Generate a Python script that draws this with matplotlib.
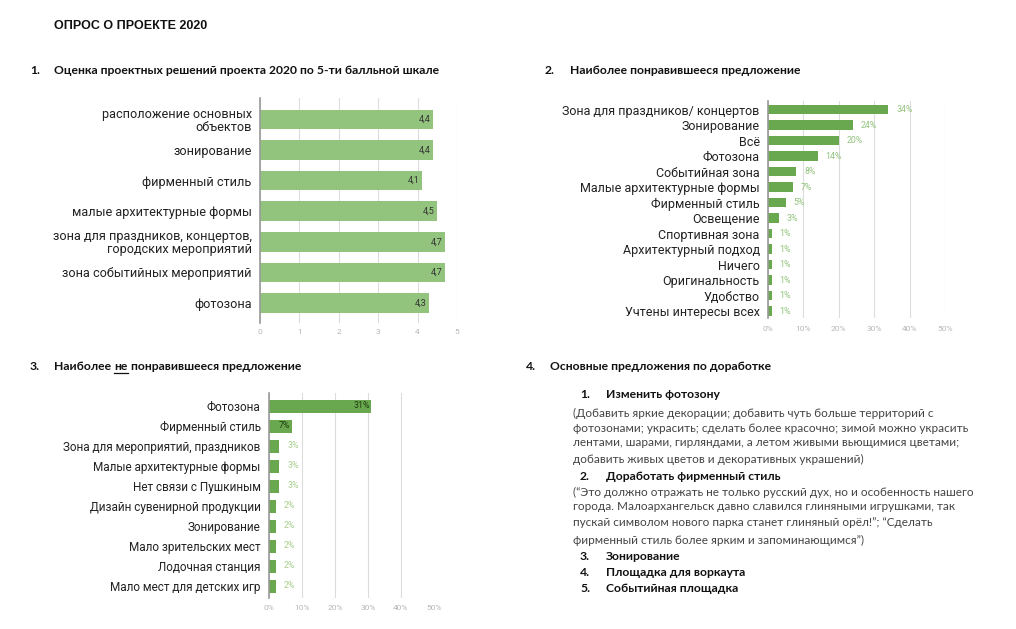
import matplotlib
matplotlib.use('Agg')
import matplotlib.pyplot as plt
import numpy as np

W, H = 1016, 629

title = 'ОПРОС О ПРОЕКТЕ 2020'

# 1. оценка по 5-ти балльной шкале
cats1 = ['расположение основных\nобъектов', 'зонирование', 'фирменный стиль',
         'малые архитектурные формы', 'зона для праздников, концертов,\nгородских мероприятий',
         'зона событийных мероприятий', 'фотозона']
vals1 = [4.4, 4.4, 4.1, 4.5, 4.7, 4.7, 4.3]
ticks1 = [0, 1, 2, 3, 4, 5]

# 2. наиболее понравившееся
cats2 = ['Зона для праздников/ концертов', 'Зонирование', 'Всё', 'Фотозона',
         'Событийная зона', 'Малые архитектурные формы', 'Фирменный стиль',
         'Освещение', 'Спортивная зона', 'Архитектурный подход', 'Ничего',
         'Оригинальность', 'Удобство', 'Учтены интересы всех']
vals2 = [34, 24, 20, 14, 8, 7, 5, 3, 1, 1, 1, 1, 1, 1]

# 3. наиболее не понравившееся
cats3 = ['Фотозона', 'Фирменный стиль', 'Зона для мероприятий, праздников',
         'Малые архитектурные формы', 'Нет связи с Пушкиным',
         'Дизайн сувенирной продукции', 'Зонирование', 'Мало зрительских мест',
         'Лодочная станция', 'Мало мест для детских игр']
vals3 = [31, 7, 3, 3, 3, 2, 2, 2, 2, 2]
ticks_pct = [0, 10, 20, 30, 40, 50]

# 4. предложения по доработке
items4 = ['Изменить фотозону', 'Доработать фирменный стиль', 'Зонирование',
          'Площадка для воркаута', 'Событийная площадка']
para1 = ['(Добавить яркие декорации; добавить чуть больше территорий с',
         'фотозонами; украсить; сделать более красочно; зимой можно украсить',
         'лентами, шарами, гирляндами, а летом живыми вьющимися цветами;',
         'добавить живых цветов и декоративных украшений)']
para2 = ['(“Это должно отражать не только русский дух, но и особенность нашего',
         'города. Малоархангельск давно славился глиняными игрушками, так',
         'пускай символом нового парка станет глиняный орёл!”; “Сделать',
         'фирменный стиль более ярким и запоминающимся”)']

fig = plt.figure(figsize=(W / 100, H / 100), dpi=100)
fig.patch.set_facecolor('white')


def fx(x):
    return x / W


def fy(y):
    return 1 - y / H


def make_ax(left, right, top, bottom):
    return fig.add_axes([fx(left), fy(bottom), fx(right - left), (bottom - top) / H])


def style_ax(ax, labels, ticks, ylim, lab_size, tick_fmt, tick_pad):
    ax.set_xlim(ticks[0], ticks[-1])
    ax.set_ylim(*ylim)
    ax.set_yticks(np.arange(len(labels)))
    ax.set_yticklabels(labels, fontsize=lab_size, family='Roboto', color='#222222',
                       linespacing=1.0, multialignment='right')
    ax.set_xticks(ticks)
    ax.set_xticklabels([tick_fmt(t) for t in ticks], fontsize=6, family='Roboto',
                       color='#b7b7b7')
    ax.tick_params(axis='both', length=0)
    ax.tick_params(axis='y', pad=6)
    ax.tick_params(axis='x', pad=tick_pad)
    for s in ['top', 'right', 'bottom']:
        ax.spines[s].set_visible(False)
    ax.spines['left'].set_color('#999999')
    ax.spines['left'].set_linewidth(1.2)
    ax.spines['left'].set_zorder(5)
    ax.grid(axis='x', color='#dcdcdc', linewidth=0.8)
    ax.set_axisbelow(True)


bold = dict(family='Lato', fontweight='bold', fontsize=8.7, color='#111111', va='center')

fig.text(fx(54), fy(26), title, family='Liberation Sans', fontweight='bold',
         fontsize=9, color='#111111', va='center')

fig.text(fx(30), fy(70), '1.', **bold)
fig.text(fx(54), fy(70), 'Оценка проектных решений проекта 2020 по 5-ти балльной шкале', **bold)
fig.text(fx(545), fy(70), '2.', **bold)
fig.text(fx(570), fy(70), 'Наиболее понравившееся предложение', **bold)
fig.text(fx(30), fy(367), '3.', **bold)
fig.text(fx(526), fy(367), '4.', **bold)
fig.text(fx(550), fy(367), 'Основные предложения по доработке', **bold)

# header 3 with underlined "не"
renderer = fig.canvas.get_renderer()
t1 = fig.text(fx(54), fy(367), 'Наиболее ', **bold)
bb = t1.get_window_extent(renderer)
t2 = fig.text(bb.x1 / W, fy(367), 'не', **bold)
bb2 = t2.get_window_extent(renderer)
fig.add_artist(plt.Line2D([bb2.x0 / W, bb2.x1 / W], [fy(373), fy(373)],
                          color='#111111', linewidth=0.9, transform=fig.transFigure))
fig.text(bb2.x1 / W, fy(367), ' понравившееся предложение', **bold)

# chart 1
ax1 = make_ax(260, 457, 98, 323)
y1 = np.arange(len(cats1))
ax1.barh(y1, vals1, height=0.64, color='#93c47d')
style_ax(ax1, cats1, ticks1, (6.65, -0.7), 9.1, lambda t: str(t), 4)
for yi, v in zip(y1, vals1):
    ax1.text(v - 0.06, yi, f'{v:.1f}'.replace('.', ','), ha='right', va='center',
             fontsize=6.5, family='Roboto', color='#333333')

# chart 2
ax2 = make_ax(768, 945, 101, 318)
y2 = np.arange(len(cats2))
ax2.barh(y2, vals2, height=0.6, color='#6aa84f')
style_ax(ax2, cats2, ticks_pct, (13.45, -0.55), 9, lambda t: f'{t}%', 6)
for yi, v in zip(y2, vals2):
    ax2.text(v + 2.2, yi, f'{v}%', ha='left', va='center', fontsize=6.3,
             family='Roboto', color='#93c47d')

# chart 3
ax3 = make_ax(269, 434, 393, 598)
y3 = np.arange(len(cats3))
ax3.barh(y3, vals3, height=0.65, color='#6aa84f')
style_ax(ax3, cats3, ticks_pct, (9.6, -0.65), 8.5, lambda t: f'{t}%', 5)
for yi, v in zip(y3, vals3):
    if v >= 5:
        ax3.text(v - 0.5, yi, f'{v}%', ha='right', va='center', fontsize=6.3,
                 family='Roboto', color='#1e3d12')
    else:
        ax3.text(v + 2.5, yi, f'{v}%', ha='left', va='center', fontsize=6.3,
                 family='Roboto', color='#a8d08d')

# section 4 text
item_y = [394, 476, 557, 573, 588]
for i, (txt, yy) in enumerate(zip(items4, item_y)):
    fig.text(fx(580), fy(yy), f'{i + 1}.', **bold)
    fig.text(fx(606), fy(yy), txt, **bold)

para_style = dict(family='Lato', fontsize=8.5, color='#444444', va='center')
for txt, yy in zip(para1, [413, 428, 443, 459]):
    fig.text(fx(573), fy(yy), txt, **para_style)
for txt, yy in zip(para2, [492, 507, 523, 540]):
    fig.text(fx(573), fy(yy), txt, **para_style)

fig.savefig('out.png', dpi=100)
